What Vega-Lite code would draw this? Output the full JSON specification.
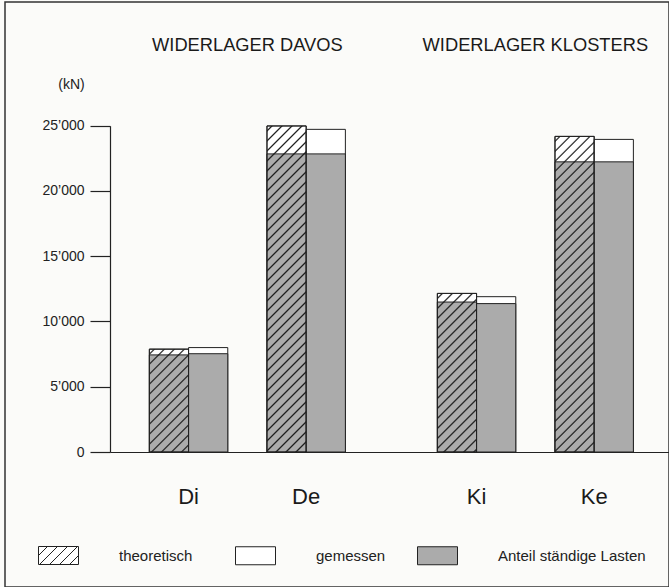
{
  "$schema": "https://vega.github.io/schema/vega-lite/v6.json",
  "width": 664,
  "height": 585,
  "autosize": {"type": "none"},
  "padding": {"left": 5, "top": 2, "right": 0, "bottom": 0},
  "background": "#fbfbf9",
  "view": {"stroke": "#333", "strokeWidth": 1.5},
  "config": {
    "font": "Liberation Sans",
    "axis": {"labelColor": "#222", "domainColor": "#222", "tickColor": "#222", "grid": false, "labelFont": "Liberation Sans", "titleFont": "Liberation Sans"},
    "legend": {"labelFontSize": 15, "labelColor": "#222", "labelOffset": 40, "columnPadding": 43, "symbolSize": 1600, "symbolStrokeWidth": 1, "symbolStrokeColor": "#222", "padding": 0, "labelLimit": 400, "labelFont": "Liberation Sans"}
  },
  "data": {"values": [
    {"gruppe": "Davos", "pier": "Di", "typ": "theoretisch", "reihe": "i-theoretisch", "total": 7880, "staendig": 7440},
    {"gruppe": "Davos", "pier": "Di", "typ": "gemessen", "reihe": "i-gemessen", "total": 8000, "staendig": 7530},
    {"gruppe": "Davos", "pier": "De", "typ": "theoretisch", "reihe": "e-theoretisch", "total": 24980, "staendig": 22840},
    {"gruppe": "Davos", "pier": "De", "typ": "gemessen", "reihe": "e-gemessen", "total": 24720, "staendig": 22840},
    {"gruppe": "Klosters", "pier": "Ki", "typ": "theoretisch", "reihe": "i-theoretisch", "total": 12150, "staendig": 11490},
    {"gruppe": "Klosters", "pier": "Ki", "typ": "gemessen", "reihe": "i-gemessen", "total": 11900, "staendig": 11370},
    {"gruppe": "Klosters", "pier": "Ke", "typ": "theoretisch", "reihe": "e-theoretisch", "total": 24180, "staendig": 22230},
    {"gruppe": "Klosters", "pier": "Ke", "typ": "gemessen", "reihe": "e-gemessen", "total": 23950, "staendig": 22230}
  ]},
  "resolve": {"axis": {"x": "independent"}},
  "layer": [
    {
      "mark": {"type": "bar", "fill": "white", "stroke": "#222", "strokeWidth": 1},
      "encoding": {
        "x": {"field": "gruppe", "type": "nominal", "scale": {"domain": ["Davos", "Klosters"], "range": [105, 664], "paddingInner": 0.3194, "paddingOuter": 0.1302, "align": 0.525},
          "axis": {"orient": "bottom", "offset": -135, "labels": false, "ticks": false, "domain": true, "domainWidth": 1.2, "title": null}},
        "xOffset": {"field": "reihe", "type": "nominal", "scale": {"domain": ["i-theoretisch", "i-gemessen", "lücke", "e-theoretisch", "e-gemessen"], "paddingInner": 0, "paddingOuter": 0}},
        "y": {"field": "total", "type": "quantitative", "scale": {"domain": [0, 25000], "range": [450, 123.7], "nice": false, "zero": true},
          "axis": {"values": [0, 5000, 10000, 15000, 20000, 25000], "labelExpr": "replace(format(datum.value, ','), ',', '’')", "offset": -105, "tickSize": 20, "tickWidth": 1.2, "domainWidth": 1.2, "labelPadding": 6, "labelFontSize": 14, "domain": true, "ticks": true, "grid": false,
            "title": "(kN)", "titleAngle": 0, "titleX": -39, "titleY": 82, "titleAlign": "center", "titleBaseline": "middle", "titleFontSize": 14, "titleFontWeight": "normal", "titleColor": "#222"}},
        "stroke": {"datum": "theoretisch", "scale": {"domain": ["theoretisch"], "range": ["#222"]},
          "legend": {"orient": "none", "legendX": 33, "legendY": 533, "direction": "horizontal", "title": null, "symbolFillColor": "white",
            "symbolType": "M-1,-0.45H1V0.45H-1Z M-1,0L-0.55,-0.45 M-0.95,0.45L-0.05,-0.45 M-0.45,0.45L0.45,-0.45 M0.05,0.45L0.95,-0.45 M0.55,0.45L1,0"}}
      }
    },
    {
      "mark": {"type": "bar", "stroke": "#222", "strokeWidth": 1},
      "encoding": {
        "x": {"field": "gruppe", "type": "nominal",
          "axis": {"orient": "top", "offset": -43, "labels": true, "ticks": false, "tickSize": 0, "domain": false, "labelPadding": 0, "labelBaseline": "middle", "labelAngle": 0, "labelFontSize": 18.3, "labelLimit": 0, "labelColor": "#1a1a1a",
            "labelExpr": "datum.value == 'Davos' ? 'WIDERLAGER DAVOS' : 'WIDERLAGER KLOSTERS'", "title": null}},
        "xOffset": {"field": "reihe", "type": "nominal"},
        "y": {"field": "staendig", "type": "quantitative"},
        "fill": {"datum": "Anteil ständige Lasten", "scale": {"domain": ["gemessen", "Anteil ständige Lasten"], "range": ["white", "#ababab"]},
          "legend": {"orient": "none", "legendX": 230, "legendY": 533, "direction": "horizontal", "title": null, "columnPadding": 29, "symbolType": "M-1,-0.45H1V0.45H-1Z"}}
      }
    },
    {
      "transform": [{"filter": "datum.typ == 'theoretisch' && datum.pier == 'Di'"}],
      "mark": {"type": "bar", "stroke": "#222", "strokeWidth": 1, "fill": {"gradient": "linear", "x1": 0, "y1": 0, "x2": 1.29429, "y2": 3.39582, "stops": [
        {"offset":0.0085,"color":"transparent"},{"offset":0.0125,"color":"#1a1a1a"},{"offset":0.0165,"color":"transparent"},
        {"offset":0.0335,"color":"transparent"},{"offset":0.0375,"color":"#1a1a1a"},{"offset":0.0415,"color":"transparent"},
        {"offset":0.0585,"color":"transparent"},{"offset":0.0625,"color":"#1a1a1a"},{"offset":0.0665,"color":"transparent"},
        {"offset":0.0835,"color":"transparent"},{"offset":0.0875,"color":"#1a1a1a"},{"offset":0.0915,"color":"transparent"},
        {"offset":0.1085,"color":"transparent"},{"offset":0.1125,"color":"#1a1a1a"},{"offset":0.1165,"color":"transparent"},
        {"offset":0.1335,"color":"transparent"},{"offset":0.1375,"color":"#1a1a1a"},{"offset":0.1415,"color":"transparent"},
        {"offset":0.1585,"color":"transparent"},{"offset":0.1625,"color":"#1a1a1a"},{"offset":0.1665,"color":"transparent"},
        {"offset":0.1835,"color":"transparent"},{"offset":0.1875,"color":"#1a1a1a"},{"offset":0.1915,"color":"transparent"},
        {"offset":0.2085,"color":"transparent"},{"offset":0.2125,"color":"#1a1a1a"},{"offset":0.2165,"color":"transparent"},
        {"offset":0.2335,"color":"transparent"},{"offset":0.2375,"color":"#1a1a1a"},{"offset":0.2415,"color":"transparent"},
        {"offset":0.2585,"color":"transparent"},{"offset":0.2625,"color":"#1a1a1a"},{"offset":0.2665,"color":"transparent"},
        {"offset":0.2835,"color":"transparent"},{"offset":0.2875,"color":"#1a1a1a"},{"offset":0.2915,"color":"transparent"},
        {"offset":0.3085,"color":"transparent"},{"offset":0.3125,"color":"#1a1a1a"},{"offset":0.3165,"color":"transparent"},
        {"offset":0.3335,"color":"transparent"},{"offset":0.3375,"color":"#1a1a1a"},{"offset":0.3415,"color":"transparent"},
        {"offset":0.3585,"color":"transparent"},{"offset":0.3625,"color":"#1a1a1a"},{"offset":0.3665,"color":"transparent"}
      ]}},
      "encoding": {
        "x": {"field": "gruppe", "type": "nominal", "axis": null},
        "xOffset": {"field": "reihe", "type": "nominal"},
        "y": {"field": "total", "type": "quantitative"}
      }
    },
    {
      "transform": [{"filter": "datum.typ == 'theoretisch' && datum.pier == 'De'"}],
      "mark": {"type": "bar", "stroke": "#222", "strokeWidth": 1, "fill": {"gradient": "linear", "x1": 0, "y1": 0, "x2": 0.145406, "y2": 1.20939, "stops": [
        {"offset":0.0085,"color":"transparent"},{"offset":0.0125,"color":"#1a1a1a"},{"offset":0.0165,"color":"transparent"},
        {"offset":0.0335,"color":"transparent"},{"offset":0.0375,"color":"#1a1a1a"},{"offset":0.0415,"color":"transparent"},
        {"offset":0.0585,"color":"transparent"},{"offset":0.0625,"color":"#1a1a1a"},{"offset":0.0665,"color":"transparent"},
        {"offset":0.0835,"color":"transparent"},{"offset":0.0875,"color":"#1a1a1a"},{"offset":0.0915,"color":"transparent"},
        {"offset":0.1085,"color":"transparent"},{"offset":0.1125,"color":"#1a1a1a"},{"offset":0.1165,"color":"transparent"},
        {"offset":0.1335,"color":"transparent"},{"offset":0.1375,"color":"#1a1a1a"},{"offset":0.1415,"color":"transparent"},
        {"offset":0.1585,"color":"transparent"},{"offset":0.1625,"color":"#1a1a1a"},{"offset":0.1665,"color":"transparent"},
        {"offset":0.1835,"color":"transparent"},{"offset":0.1875,"color":"#1a1a1a"},{"offset":0.1915,"color":"transparent"},
        {"offset":0.2085,"color":"transparent"},{"offset":0.2125,"color":"#1a1a1a"},{"offset":0.2165,"color":"transparent"},
        {"offset":0.2335,"color":"transparent"},{"offset":0.2375,"color":"#1a1a1a"},{"offset":0.2415,"color":"transparent"},
        {"offset":0.2585,"color":"transparent"},{"offset":0.2625,"color":"#1a1a1a"},{"offset":0.2665,"color":"transparent"},
        {"offset":0.2835,"color":"transparent"},{"offset":0.2875,"color":"#1a1a1a"},{"offset":0.2915,"color":"transparent"},
        {"offset":0.3085,"color":"transparent"},{"offset":0.3125,"color":"#1a1a1a"},{"offset":0.3165,"color":"transparent"},
        {"offset":0.3335,"color":"transparent"},{"offset":0.3375,"color":"#1a1a1a"},{"offset":0.3415,"color":"transparent"},
        {"offset":0.3585,"color":"transparent"},{"offset":0.3625,"color":"#1a1a1a"},{"offset":0.3665,"color":"transparent"},
        {"offset":0.3835,"color":"transparent"},{"offset":0.3875,"color":"#1a1a1a"},{"offset":0.3915,"color":"transparent"},
        {"offset":0.4085,"color":"transparent"},{"offset":0.4125,"color":"#1a1a1a"},{"offset":0.4165,"color":"transparent"},
        {"offset":0.4335,"color":"transparent"},{"offset":0.4375,"color":"#1a1a1a"},{"offset":0.4415,"color":"transparent"},
        {"offset":0.4585,"color":"transparent"},{"offset":0.4625,"color":"#1a1a1a"},{"offset":0.4665,"color":"transparent"},
        {"offset":0.4835,"color":"transparent"},{"offset":0.4875,"color":"#1a1a1a"},{"offset":0.4915,"color":"transparent"},
        {"offset":0.5085,"color":"transparent"},{"offset":0.5125,"color":"#1a1a1a"},{"offset":0.5165,"color":"transparent"},
        {"offset":0.5335,"color":"transparent"},{"offset":0.5375,"color":"#1a1a1a"},{"offset":0.5415,"color":"transparent"},
        {"offset":0.5585,"color":"transparent"},{"offset":0.5625,"color":"#1a1a1a"},{"offset":0.5665,"color":"transparent"},
        {"offset":0.5835,"color":"transparent"},{"offset":0.5875,"color":"#1a1a1a"},{"offset":0.5915,"color":"transparent"},
        {"offset":0.6085,"color":"transparent"},{"offset":0.6125,"color":"#1a1a1a"},{"offset":0.6165,"color":"transparent"},
        {"offset":0.6335,"color":"transparent"},{"offset":0.6375,"color":"#1a1a1a"},{"offset":0.6415,"color":"transparent"},
        {"offset":0.6585,"color":"transparent"},{"offset":0.6625,"color":"#1a1a1a"},{"offset":0.6665,"color":"transparent"},
        {"offset":0.6835,"color":"transparent"},{"offset":0.6875,"color":"#1a1a1a"},{"offset":0.6915,"color":"transparent"},
        {"offset":0.7085,"color":"transparent"},{"offset":0.7125,"color":"#1a1a1a"},{"offset":0.7165,"color":"transparent"},
        {"offset":0.7335,"color":"transparent"},{"offset":0.7375,"color":"#1a1a1a"},{"offset":0.7415,"color":"transparent"},
        {"offset":0.7585,"color":"transparent"},{"offset":0.7625,"color":"#1a1a1a"},{"offset":0.7665,"color":"transparent"},
        {"offset":0.7835,"color":"transparent"},{"offset":0.7875,"color":"#1a1a1a"},{"offset":0.7915,"color":"transparent"},
        {"offset":0.8085,"color":"transparent"},{"offset":0.8125,"color":"#1a1a1a"},{"offset":0.8165,"color":"transparent"},
        {"offset":0.8335,"color":"transparent"},{"offset":0.8375,"color":"#1a1a1a"},{"offset":0.8415,"color":"transparent"},
        {"offset":0.8585,"color":"transparent"},{"offset":0.8625,"color":"#1a1a1a"},{"offset":0.8665,"color":"transparent"},
        {"offset":0.8835,"color":"transparent"},{"offset":0.8875,"color":"#1a1a1a"},{"offset":0.8915,"color":"transparent"},
        {"offset":0.9085,"color":"transparent"},{"offset":0.9125,"color":"#1a1a1a"},{"offset":0.9165,"color":"transparent"}
      ]}},
      "encoding": {
        "x": {"field": "gruppe", "type": "nominal", "axis": null},
        "xOffset": {"field": "reihe", "type": "nominal"},
        "y": {"field": "total", "type": "quantitative"}
      }
    },
    {
      "transform": [{"filter": "datum.typ == 'theoretisch' && datum.pier == 'Ki'"}],
      "mark": {"type": "bar", "stroke": "#222", "strokeWidth": 1, "fill": {"gradient": "linear", "x1": 0, "y1": 0, "x2": 0.58762, "y2": 2.37716, "stops": [
        {"offset":0.0085,"color":"transparent"},{"offset":0.0125,"color":"#1a1a1a"},{"offset":0.0165,"color":"transparent"},
        {"offset":0.0335,"color":"transparent"},{"offset":0.0375,"color":"#1a1a1a"},{"offset":0.0415,"color":"transparent"},
        {"offset":0.0585,"color":"transparent"},{"offset":0.0625,"color":"#1a1a1a"},{"offset":0.0665,"color":"transparent"},
        {"offset":0.0835,"color":"transparent"},{"offset":0.0875,"color":"#1a1a1a"},{"offset":0.0915,"color":"transparent"},
        {"offset":0.1085,"color":"transparent"},{"offset":0.1125,"color":"#1a1a1a"},{"offset":0.1165,"color":"transparent"},
        {"offset":0.1335,"color":"transparent"},{"offset":0.1375,"color":"#1a1a1a"},{"offset":0.1415,"color":"transparent"},
        {"offset":0.1585,"color":"transparent"},{"offset":0.1625,"color":"#1a1a1a"},{"offset":0.1665,"color":"transparent"},
        {"offset":0.1835,"color":"transparent"},{"offset":0.1875,"color":"#1a1a1a"},{"offset":0.1915,"color":"transparent"},
        {"offset":0.2085,"color":"transparent"},{"offset":0.2125,"color":"#1a1a1a"},{"offset":0.2165,"color":"transparent"},
        {"offset":0.2335,"color":"transparent"},{"offset":0.2375,"color":"#1a1a1a"},{"offset":0.2415,"color":"transparent"},
        {"offset":0.2585,"color":"transparent"},{"offset":0.2625,"color":"#1a1a1a"},{"offset":0.2665,"color":"transparent"},
        {"offset":0.2835,"color":"transparent"},{"offset":0.2875,"color":"#1a1a1a"},{"offset":0.2915,"color":"transparent"},
        {"offset":0.3085,"color":"transparent"},{"offset":0.3125,"color":"#1a1a1a"},{"offset":0.3165,"color":"transparent"},
        {"offset":0.3335,"color":"transparent"},{"offset":0.3375,"color":"#1a1a1a"},{"offset":0.3415,"color":"transparent"},
        {"offset":0.3585,"color":"transparent"},{"offset":0.3625,"color":"#1a1a1a"},{"offset":0.3665,"color":"transparent"},
        {"offset":0.3835,"color":"transparent"},{"offset":0.3875,"color":"#1a1a1a"},{"offset":0.3915,"color":"transparent"},
        {"offset":0.4085,"color":"transparent"},{"offset":0.4125,"color":"#1a1a1a"},{"offset":0.4165,"color":"transparent"},
        {"offset":0.4335,"color":"transparent"},{"offset":0.4375,"color":"#1a1a1a"},{"offset":0.4415,"color":"transparent"},
        {"offset":0.4585,"color":"transparent"},{"offset":0.4625,"color":"#1a1a1a"},{"offset":0.4665,"color":"transparent"},
        {"offset":0.4835,"color":"transparent"},{"offset":0.4875,"color":"#1a1a1a"},{"offset":0.4915,"color":"transparent"}
      ]}},
      "encoding": {
        "x": {"field": "gruppe", "type": "nominal", "axis": null},
        "xOffset": {"field": "reihe", "type": "nominal"},
        "y": {"field": "total", "type": "quantitative"}
      }
    },
    {
      "transform": [{"filter": "datum.typ == 'theoretisch' && datum.pier == 'Ke'"}],
      "mark": {"type": "bar", "stroke": "#222", "strokeWidth": 1, "fill": {"gradient": "linear", "x1": 0, "y1": 0, "x2": 0.155033, "y2": 1.24817, "stops": [
        {"offset":0.0085,"color":"transparent"},{"offset":0.0125,"color":"#1a1a1a"},{"offset":0.0165,"color":"transparent"},
        {"offset":0.0335,"color":"transparent"},{"offset":0.0375,"color":"#1a1a1a"},{"offset":0.0415,"color":"transparent"},
        {"offset":0.0585,"color":"transparent"},{"offset":0.0625,"color":"#1a1a1a"},{"offset":0.0665,"color":"transparent"},
        {"offset":0.0835,"color":"transparent"},{"offset":0.0875,"color":"#1a1a1a"},{"offset":0.0915,"color":"transparent"},
        {"offset":0.1085,"color":"transparent"},{"offset":0.1125,"color":"#1a1a1a"},{"offset":0.1165,"color":"transparent"},
        {"offset":0.1335,"color":"transparent"},{"offset":0.1375,"color":"#1a1a1a"},{"offset":0.1415,"color":"transparent"},
        {"offset":0.1585,"color":"transparent"},{"offset":0.1625,"color":"#1a1a1a"},{"offset":0.1665,"color":"transparent"},
        {"offset":0.1835,"color":"transparent"},{"offset":0.1875,"color":"#1a1a1a"},{"offset":0.1915,"color":"transparent"},
        {"offset":0.2085,"color":"transparent"},{"offset":0.2125,"color":"#1a1a1a"},{"offset":0.2165,"color":"transparent"},
        {"offset":0.2335,"color":"transparent"},{"offset":0.2375,"color":"#1a1a1a"},{"offset":0.2415,"color":"transparent"},
        {"offset":0.2585,"color":"transparent"},{"offset":0.2625,"color":"#1a1a1a"},{"offset":0.2665,"color":"transparent"},
        {"offset":0.2835,"color":"transparent"},{"offset":0.2875,"color":"#1a1a1a"},{"offset":0.2915,"color":"transparent"},
        {"offset":0.3085,"color":"transparent"},{"offset":0.3125,"color":"#1a1a1a"},{"offset":0.3165,"color":"transparent"},
        {"offset":0.3335,"color":"transparent"},{"offset":0.3375,"color":"#1a1a1a"},{"offset":0.3415,"color":"transparent"},
        {"offset":0.3585,"color":"transparent"},{"offset":0.3625,"color":"#1a1a1a"},{"offset":0.3665,"color":"transparent"},
        {"offset":0.3835,"color":"transparent"},{"offset":0.3875,"color":"#1a1a1a"},{"offset":0.3915,"color":"transparent"},
        {"offset":0.4085,"color":"transparent"},{"offset":0.4125,"color":"#1a1a1a"},{"offset":0.4165,"color":"transparent"},
        {"offset":0.4335,"color":"transparent"},{"offset":0.4375,"color":"#1a1a1a"},{"offset":0.4415,"color":"transparent"},
        {"offset":0.4585,"color":"transparent"},{"offset":0.4625,"color":"#1a1a1a"},{"offset":0.4665,"color":"transparent"},
        {"offset":0.4835,"color":"transparent"},{"offset":0.4875,"color":"#1a1a1a"},{"offset":0.4915,"color":"transparent"},
        {"offset":0.5085,"color":"transparent"},{"offset":0.5125,"color":"#1a1a1a"},{"offset":0.5165,"color":"transparent"},
        {"offset":0.5335,"color":"transparent"},{"offset":0.5375,"color":"#1a1a1a"},{"offset":0.5415,"color":"transparent"},
        {"offset":0.5585,"color":"transparent"},{"offset":0.5625,"color":"#1a1a1a"},{"offset":0.5665,"color":"transparent"},
        {"offset":0.5835,"color":"transparent"},{"offset":0.5875,"color":"#1a1a1a"},{"offset":0.5915,"color":"transparent"},
        {"offset":0.6085,"color":"transparent"},{"offset":0.6125,"color":"#1a1a1a"},{"offset":0.6165,"color":"transparent"},
        {"offset":0.6335,"color":"transparent"},{"offset":0.6375,"color":"#1a1a1a"},{"offset":0.6415,"color":"transparent"},
        {"offset":0.6585,"color":"transparent"},{"offset":0.6625,"color":"#1a1a1a"},{"offset":0.6665,"color":"transparent"},
        {"offset":0.6835,"color":"transparent"},{"offset":0.6875,"color":"#1a1a1a"},{"offset":0.6915,"color":"transparent"},
        {"offset":0.7085,"color":"transparent"},{"offset":0.7125,"color":"#1a1a1a"},{"offset":0.7165,"color":"transparent"},
        {"offset":0.7335,"color":"transparent"},{"offset":0.7375,"color":"#1a1a1a"},{"offset":0.7415,"color":"transparent"},
        {"offset":0.7585,"color":"transparent"},{"offset":0.7625,"color":"#1a1a1a"},{"offset":0.7665,"color":"transparent"},
        {"offset":0.7835,"color":"transparent"},{"offset":0.7875,"color":"#1a1a1a"},{"offset":0.7915,"color":"transparent"},
        {"offset":0.8085,"color":"transparent"},{"offset":0.8125,"color":"#1a1a1a"},{"offset":0.8165,"color":"transparent"},
        {"offset":0.8335,"color":"transparent"},{"offset":0.8375,"color":"#1a1a1a"},{"offset":0.8415,"color":"transparent"},
        {"offset":0.8585,"color":"transparent"},{"offset":0.8625,"color":"#1a1a1a"},{"offset":0.8665,"color":"transparent"},
        {"offset":0.8835,"color":"transparent"},{"offset":0.8875,"color":"#1a1a1a"},{"offset":0.8915,"color":"transparent"}
      ]}},
      "encoding": {
        "x": {"field": "gruppe", "type": "nominal", "axis": null},
        "xOffset": {"field": "reihe", "type": "nominal"},
        "y": {"field": "total", "type": "quantitative"}
      }
    },
    {
      "transform": [{"filter": "datum.typ == 'theoretisch'"}],
      "mark": {"type": "text", "dx": 19.6, "dy": 45, "fontSize": 22, "baseline": "middle", "align": "center", "color": "#1a1a1a"},
      "encoding": {
        "x": {"field": "gruppe", "type": "nominal", "axis": null},
        "xOffset": {"field": "reihe", "type": "nominal"},
        "y": {"datum": 0, "type": "quantitative"},
        "text": {"field": "pier"}
      }
    }
  ]
}
